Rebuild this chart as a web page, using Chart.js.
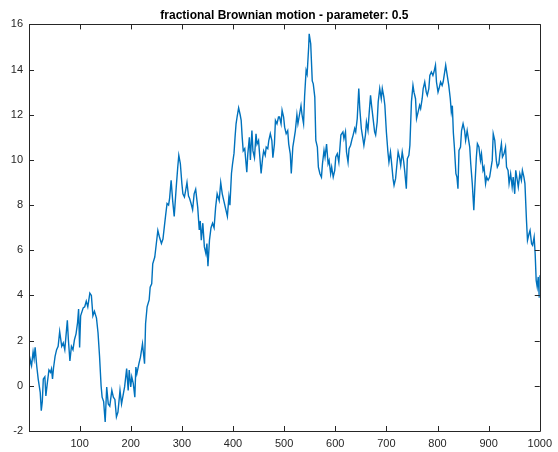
<!DOCTYPE html>
<html>
<head>
<meta charset="utf-8">
<script src="https://cdn.jsdelivr.net/npm/chart.js@4/dist/chart.umd.min.js"></script>
<style>
  html, body { margin: 0; padding: 0; background: #fff; }
  #fbm { display: block; }
</style>
</head>
<body>
<canvas id="fbm" width="558" height="452"></canvas>
<script>
// sample positions
const steps = [
  1, 3, 6, 9, 11, 13, 16, 19, 23, 25, 27, 29, 32, 34, 37, 40, 43, 45, 47, 49,
  52, 55, 58, 61, 65, 68, 71, 76, 78, 81, 84, 87, 90, 93, 96, 98, 100, 102, 107, 110,
  113, 116, 120, 123, 126, 129, 133, 136, 139, 142, 144, 147, 150,
  153, 156, 159, 163, 166, 169, 172, 175, 179, 182, 185, 188, 192, 195, 197, 200, 202,
  205, 208, 210, 212, 216, 219, 223, 225, 227, 229, 232, 236, 238, 241, 243, 247, 250, 253,
  256, 260, 263,
  266, 268, 271, 274, 276, 279, 282, 285, 289, 292, 294, 297, 300, 302, 305, 307, 310, 313,
  315, 318, 321, 324, 327, 331, 334, 336, 338, 341, 344, 347, 349, 351, 354, 357, 360, 363,
  366, 369, 373, 376, 379, 382, 386, 389, 392, 394, 397, 399,
  402, 404, 406, 408, 411, 414, 416, 418, 420, 423, 425, 427, 429, 432, 434, 437, 439, 442,
  445, 447, 450, 452, 455, 458, 460, 463, 465, 468, 470, 473, 476, 478, 481, 483, 486, 489,
  491, 494, 496, 499, 501, 504, 507, 509, 512, 514, 517, 520, 522, 525, 527, 530, 533, 535,
  538, 540, 543, 545, 548, 549, 552, 555, 557, 560, 562, 565, 567, 570, 573, 575, 578, 580,
  583, 586, 588, 591, 593, 596, 599, 601, 604,
  607, 611, 615, 617, 620, 622, 625, 627, 630, 633, 635, 638, 640, 643, 646, 648, 651, 653,
  656, 659, 661, 664, 666, 669, 671, 674, 677, 679, 682, 684, 687, 690, 692, 695, 697, 700,
  703, 705, 708, 710, 713, 715, 718, 721, 723, 726, 728, 731, 734, 736, 739, 741, 744, 746,
  749, 752, 754, 757, 759, 762, 765, 767, 770, 772, 775, 778, 780, 783, 785, 788, 791, 793,
  796, 798, 801, 803, 806, 809, 811, 814, 816, 819, 822, 825, 827,
  829, 831, 833, 836, 838, 840, 842, 845, 847, 850, 853, 855, 858, 860, 863, 865, 868, 871,
  873, 876, 878, 881, 884, 886, 889, 891, 894, 896, 899, 902, 904, 907, 909, 912, 915, 917,
  920, 922, 925, 927, 930, 933, 935, 938, 940, 943, 946, 948, 951, 953, 956, 958, 961, 964,
  966, 969, 971, 974, 976, 979, 981, 984, 986, 989, 991, 993, 995, 997, 999, 1000
];

const values = [
  0.6, 1.2, 0.9, 1.5, 1.2, 1.7, 0.9, 0.3, -0.3, -1.1, -0.7, 0.3, 0.4, -0.45, 0.15, 0.7, 0.6, 0.75, 0.3, 0.8,
  1.3, 1.6, 1.75, 2.4, 1.75, 1.9, 1.6, 2.9, 2.05, 1.1, 1.75, 1.6, 2.05, 2.3, 2.8, 3.4, 1.7, 3.1, 3.45, 3.5,
  3.75, 3.5, 4.1, 4.0, 3.1, 3.3, 3.0, 2.35, 1.3, 0.0, -0.5, -0.7, -1.6,
  -0.05, -0.8, -0.9, -0.2, -0.5, -0.6, -1.38, -1.16, -0.2, -0.8, -0.42, -0.05, 0.76, -0.2, 0.7, -0.05, 0.4,
  0.1, -0.5, 0.83, 0.54, 0.98, 1.27, 1.86, 1.42, 0.98, 2.75, 3.5, 3.8, 4.37, 4.52, 5.4, 5.7, 6.29, 6.88,
  6.6, 6.3, 6.5,
  7.1, 7.5, 8.07, 8.0, 8.3, 9.1, 8.2, 7.5, 8.8, 9.7, 10.2, 9.84, 8.95, 8.5, 8.36, 8.6, 9.0, 8.4,
  8.3, 8.07, 7.8, 8.5, 8.7, 7.9, 6.9, 7.3, 6.45, 7.2, 6.15, 5.85, 6.3, 5.3, 6.45, 7.0, 7.2, 7.0,
  7.9, 8.5, 8.2, 9.0, 8.5, 8.2, 7.8, 7.5, 8.36, 8.0, 9.4, 9.8,
  10.3, 11.0, 11.6, 11.9, 12.3, 12.0, 11.75, 11.0, 10.4, 10.5, 9.98, 9.46, 10.27, 11.0, 10.0, 11.3, 10.4, 10.1,
  11.16, 10.7, 10.86, 10.27, 9.4, 10.1, 10.4, 10.2, 10.57, 10.5, 10.86, 11.16, 10.86, 10.1, 10.7, 11.75, 11.6, 11.9,
  11.9, 11.6, 12.2, 11.9, 11.45, 11.16, 11.3, 10.7, 10.27, 9.4, 10.57, 11.0, 11.3, 12.0, 11.6, 12.0, 12.4, 12.0,
  11.6, 12.8, 13.96, 13.8, 15.0, 15.58, 15.14, 13.5, 13.37, 12.78, 10.86, 10.57, 9.68, 9.39, 9.24, 9.83, 10.42, 10.13,
  10.7, 9.83, 9.98, 9.39, 9.68, 9.24, 9.54, 10.13, 10.27,
  9.9, 11.1, 11.24, 10.94, 11.24, 10.35, 9.9, 10.5, 10.65, 10.94, 11.1, 11.39, 11.24, 11.83, 13.16, 12.27, 11.39, 11.1,
  10.65, 11.1, 11.68, 11.31, 11.98, 12.86, 12.42, 11.83, 11.24, 11.1, 11.68, 12.57, 13.16, 12.71, 13.16, 12.79, 12.42, 11.24,
  10.35, 9.9, 10.35, 9.9, 9.17, 8.88, 9.17, 9.9, 10.35, 10.06, 9.76, 10.35, 9.9, 9.47, 8.73, 10.06, 10.2, 10.65,
  12.57, 13.3, 13.0, 12.71, 11.83, 12.12, 12.42, 12.27, 12.71, 13.16, 13.45, 13.0, 12.86, 13.16, 13.74, 13.89, 13.74, 13.89,
  14.19, 13.45, 13.0, 13.16, 13.45, 13.3, 13.45, 13.89, 14.19, 13.74, 13.3, 12.71, 12.12,
  12.4, 11.2, 10.57, 9.39, 9.24, 8.73, 10.42, 10.57, 11.3, 11.6, 11.3, 10.87, 11.3, 11.0, 10.57, 9.83, 8.95, 7.77,
  8.8, 10.13, 10.72, 10.57, 9.98, 10.27, 9.54, 9.68, 8.95, 9.24, 9.1, 9.24, 9.54, 9.98, 11.16, 10.87, 9.98, 9.68,
  9.83, 10.27, 10.72, 10.13, 10.27, 10.57, 9.68, 9.54, 8.95, 9.39, 8.8, 9.24, 8.5, 9.54, 9.1, 8.8, 9.39, 9.1,
  9.54, 9.24, 8.95, 7.33, 6.44, 6.73, 6.88, 6.29, 6.22, 6.59, 5.85, 4.67, 4.38, 4.82, 3.93, 4.9
];

const xTicks = [100, 200, 300, 400, 500, 600, 700, 800, 900, 1000];
const yTicks = [-2, 0, 2, 4, 6, 8, 10, 12, 14, 16];

const FONT = '"Liberation Sans", Arial, Helvetica, sans-serif';
const AXIS_COLOR = '#262626';

// matlab style box with ticks pointing inwards
const boxPlugin = {
  id: 'matlabBox',
  afterDraw(chart) {
    const { ctx, chartArea: a, scales } = chart;
    const len = 5;
    ctx.save();
    ctx.strokeStyle = AXIS_COLOR;
    ctx.lineWidth = 1;
    ctx.beginPath();
    ctx.rect(Math.round(a.left) + 0.5, Math.round(a.top) + 0.5,
      Math.round(a.right - a.left), Math.round(a.bottom - a.top));
    xTicks.forEach(v => {
      const x = Math.round(scales.x.getPixelForValue(v)) + 0.5;
      ctx.moveTo(x, a.bottom); ctx.lineTo(x, a.bottom - len);
      ctx.moveTo(x, a.top); ctx.lineTo(x, a.top + len);
    });
    yTicks.forEach(v => {
      const y = Math.round(scales.y.getPixelForValue(v)) + 0.5;
      ctx.moveTo(a.left, y); ctx.lineTo(a.left + len, y);
      ctx.moveTo(a.right, y); ctx.lineTo(a.right - len, y);
    });
    ctx.stroke();
    ctx.restore();
  }
};

new Chart(document.getElementById('fbm'), {
  type: 'line',
  data: {
    datasets: [{
      data: steps.map((s, i) => ({ x: s, y: values[i] })),
      borderColor: '#0072BD',
      borderWidth: 1.4,
      pointRadius: 0,
      tension: 0,
      fill: false
    }]
  },
  options: {
    responsive: false,
    animation: false,
    layout: { padding: { left: 0, right: 14, top: 0, bottom: 0 } },
    plugins: {
      legend: { display: false },
      tooltip: { enabled: false },
      title: {
        display: true,
        text: 'fractional Brownian motion - parameter: 0.5',
        fullSize: false,
        color: '#000',
        font: { family: FONT, size: 12, weight: 'bold' },
        padding: { top: 8, bottom: 2 }
      }
    },
    scales: {
      x: {
        type: 'linear',
        min: 1,
        max: 1000,
        grid: { display: false, drawTicks: false },
        border: { display: false },
        afterBuildTicks: s => { s.ticks = xTicks.map(v => ({ value: v })); },
        afterFit: s => { s.height = 21; },
        ticks: {
          color: AXIS_COLOR,
          padding: 6,
          maxRotation: 0,
          font: { family: FONT, size: 11 },
          callback: v => String(v)
        }
      },
      y: {
        min: -2,
        max: 16,
        grid: { display: false, drawTicks: false },
        border: { display: false },
        afterBuildTicks: s => { s.ticks = yTicks.map(v => ({ value: v })); },
        afterFit: s => { s.width = 29; },
        ticks: {
          color: AXIS_COLOR,
          padding: 6,
          font: { family: FONT, size: 11 },
          callback: v => String(v)
        }
      }
    }
  },
  plugins: [boxPlugin]
});
</script>
</body>
</html>
